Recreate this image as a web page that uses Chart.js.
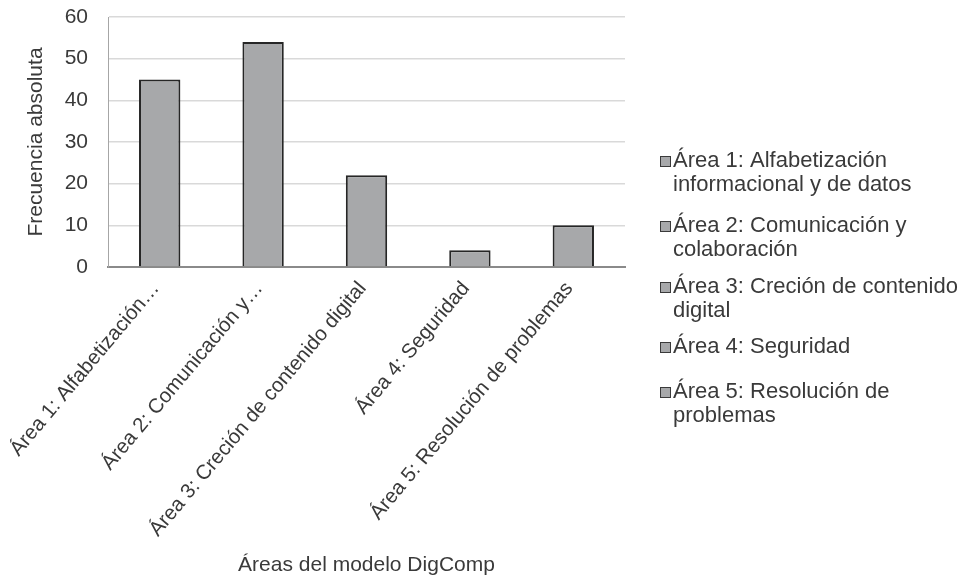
<!DOCTYPE html>
<html>
<head>
<meta charset="utf-8">
<script src="https://cdn.jsdelivr.net/npm/chart.js@4"></script>
<style>
  html, body { margin: 0; padding: 0; background: #fff; }
  #wrap { width: 963px; height: 575px; position: relative; }
</style>
</head>
<body>
<div id="wrap"><canvas id="chart"></canvas></div>
<script>
// areas of the DigComp model and how many times each one appeared
const areas = [
  "Área 1: Alfabetización informacional y de datos",
  "Área 2: Comunicación y colaboración",
  "Área 3: Creción de contenido digital",
  "Área 4: Seguridad",
  "Área 5: Resolución de problemas"
];
const axisLabels = [
  "Área 1: Alfabetización…",
  "Área 2: Comunicación y…",
  "Área 3: Creción de contenido digital",
  "Área 4: Seguridad",
  "Área 5: Resolución de problemas"
];
const frecuencia = [45, 54, 22, 4, 10];
const yTicks = [0, 10, 20, 30, 40, 50, 60];

const textColor = "#3a3a3a";
const barFill = "#a7a8aa";
const barEdge = "#262626";
const font = "Liberation Sans, Arial, sans-serif";

// legend on the right, one entry per area, long names wrap onto a second line
const sideLegend = {
  id: "sideLegend",
  afterDraw(chart) {
    const ctx = chart.ctx;
    const x0 = 660, textX = 673, maxW = 288, lineH = 24;
    const slots = [161, 226, 287, 347, 392];
    ctx.save();
    ctx.font = "22px " + font;
    ctx.textBaseline = "middle";
    ctx.textAlign = "left";
    areas.forEach((name, i) => {
      const words = name.split(" ");
      const lines = [];
      let cur = "";
      words.forEach(w => {
        const test = cur ? cur + " " + w : w;
        if (ctx.measureText(test).width > maxW && cur) {
          lines.push(cur);
          cur = w;
        } else {
          cur = test;
        }
      });
      lines.push(cur);
      const y = slots[i];
      ctx.fillStyle = barFill;
      ctx.fillRect(x0, y - 5, 10, 10);
      ctx.strokeStyle = "#3a3a3a";
      ctx.lineWidth = 1;
      ctx.strokeRect(x0 + 0.5, y - 4.5, 10, 10);
      ctx.fillStyle = textColor;
      lines.forEach((ln, j) => ctx.fillText(ln, textX, y + j * lineH));
    });
    ctx.restore();
  }
};

new Chart(document.getElementById("chart"), {
  type: "bar",
  data: {
    labels: axisLabels,
    datasets: [{
      label: "Frecuencia absoluta",
      data: frecuencia,
      backgroundColor: barFill,
      borderColor: barEdge,
      borderWidth: 2,
      categoryPercentage: 0.8,
      barPercentage: 0.5
    }]
  },
  options: {
    responsive: true,
    maintainAspectRatio: false,
    animation: false,
    layout: {
      padding: { top: 17, right: 338, left: 0, bottom: 0 }
    },
    plugins: {
      legend: { display: false },
      tooltip: { enabled: false }
    },
    scales: {
      x: {
        afterFit(axis) {
          axis.height = 308;
          axis.paddingLeft = 0;
          axis.paddingRight = 0;
        },
        grid: { display: false, drawTicks: false },
        border: { color: "#8a8a8a", width: 2 },
        ticks: {
          color: textColor,
          font: { family: font, size: 20.5 },
          maxRotation: 50,
          minRotation: 50,
          autoSkip: false,
          padding: 10,
          labelOffset: -4
        },
        title: {
          display: true,
          text: "Áreas del modelo DigComp",
          color: textColor,
          font: { family: font, size: 21 },
          padding: { top: 0, bottom: -3 }
        }
      },
      y: {
        min: 0,
        max: 60,
        afterFit(axis) {
          // keep the plot edges where they are, tick labels may overhang
          axis.width = 108;
          axis.paddingTop = 0;
          axis.paddingBottom = 0;
        },
        afterBuildTicks(axis) {
          axis.ticks = yTicks.map(v => ({ value: v }));
        },
        grid: { color: "#d9d9d9", lineWidth: 1.5, drawTicks: false },
        border: { color: "#a6a6a6", width: 1 },
        ticks: {
          color: textColor,
          font: { family: font, size: 21 },
          padding: 20
        },
        title: {
          display: true,
          text: "Frecuencia absoluta",
          color: textColor,
          font: { family: font, size: 21 },
          padding: { top: 24, bottom: 0 }
        }
      }
    }
  },
  plugins: [sideLegend]
});
</script>
</body>
</html>
